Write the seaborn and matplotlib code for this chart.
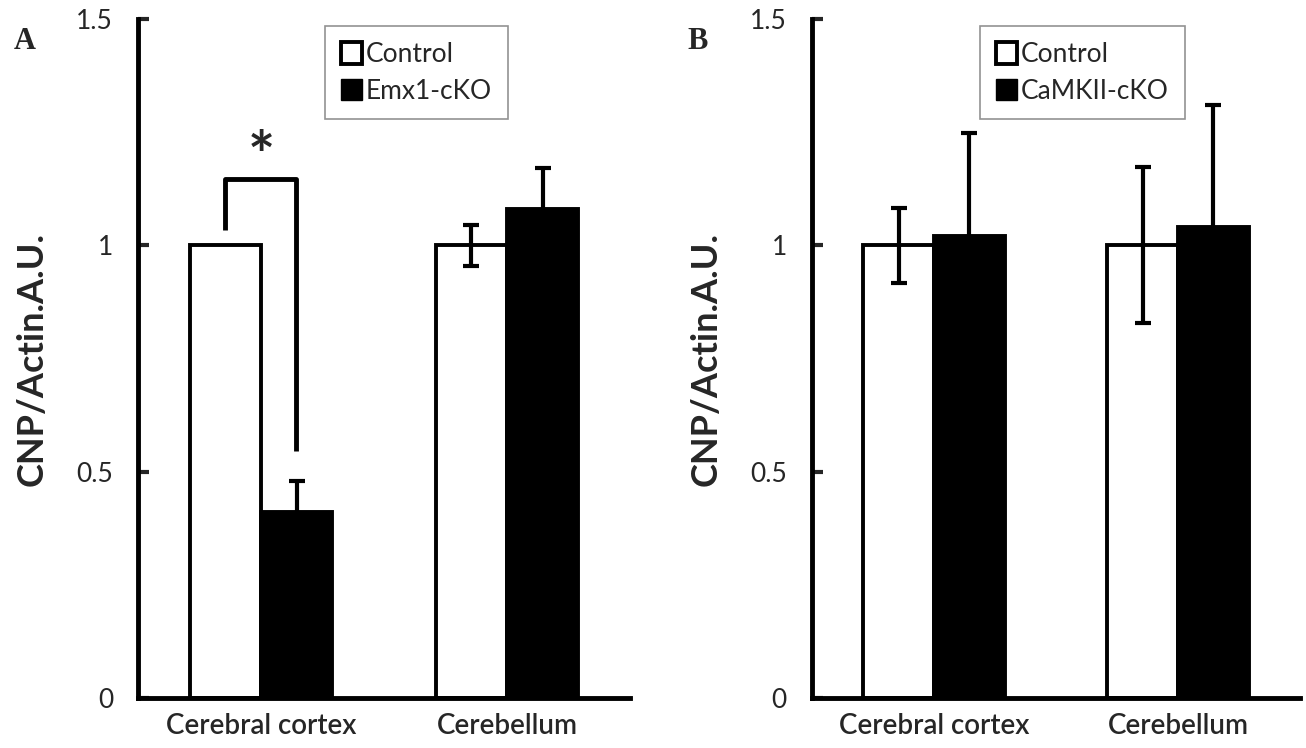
import matplotlib
matplotlib.use("Agg")
import matplotlib.pyplot as plt
import numpy as np
import pandas as pd
import seaborn as sns
from matplotlib.patches import Patch

regions = ["Cerebral cortex", "Cerebellum"]
tick_labels = ["Cerebral cortex", "Cerebellum"]

# panel A
groups_a = ["Control", "Emx1-cKO"]
mean_a_ctrl = [1.00, 1.00]
err_a_ctrl = [0.00, 0.045]
mean_a_cko = [0.41, 1.08]
err_a_cko = [0.07, 0.09]

# panel B
groups_b = ["Control", "CaMKII-cKO"]
mean_b_ctrl = [1.00, 1.00]
err_b_ctrl = [0.083, 0.172]
mean_b_cko = [1.02, 1.04]
err_b_cko = [0.228, 0.27]

# significance bracket (panel A, cortex)
bracket_y = [1.033, 1.146, 1.146, 0.546]
star_y = 1.19

sns.set_theme(style="white")
plt.rcParams["font.family"] = ["Lato", "DejaVu Sans"]


def draw_panel(ax, groups, m_ctrl, e_ctrl, m_cko, e_cko, letter, leg_x):
    df = pd.DataFrame({
        "region": regions * 2,
        "group": [groups[0]] * 2 + [groups[1]] * 2,
        "value": m_ctrl + m_cko,
    })
    sns.barplot(data=df, x="region", y="value", hue="group", order=regions,
                hue_order=groups, palette=["white", "black"], width=0.58,
                errorbar=None, edgecolor="black", linewidth=2.8, ax=ax,
                legend=False)
    # error bars at bar centres (skip zero-width ones)
    for bars, m, e in zip(ax.containers, [m_ctrl, m_cko], [e_ctrl, e_cko]):
        xs = np.array([b.get_x() + b.get_width() / 2 for b in bars])
        m, e = np.array(m), np.array(e)
        keep = e > 0
        ax.errorbar(xs[keep], m[keep], yerr=e[keep], fmt="none", ecolor="black",
                    elinewidth=3, capsize=6, capthick=3, zorder=1)

    ax.set_xlim(-0.5, 1.5)
    ax.set_ylim(0, 1.5)
    ax.set_yticks([0, 0.5, 1, 1.5])
    ax.set_yticklabels(["0", "0.5", "1", "1.5"], fontsize=19)
    ax.set_xticks([0, 1])
    ax.set_xticklabels(tick_labels, fontsize=20, fontweight="semibold")
    ax.tick_params(axis="y", direction="in", length=8, width=3, pad=18, left=True)
    ax.tick_params(axis="x", length=0, pad=11)
    for s in ["top", "right"]:
        ax.spines[s].set_visible(False)
    for s in ["left", "bottom"]:
        ax.spines[s].set_linewidth(3.5)
        ax.spines[s].set_color("black")
    ax.set_xlabel("")
    ax.set_ylabel("CNP/Actin.A.U.", fontsize=26, fontweight="bold", labelpad=20)

    handles = [Patch(facecolor="white", edgecolor="black", linewidth=2.8, label=groups[0]),
               Patch(facecolor="black", edgecolor="black", label=groups[1])]
    leg = ax.legend(handles=handles, loc="upper left", bbox_to_anchor=(leg_x, 0.99),
                    fontsize=19, handlelength=0.8, handleheight=0.9,
                    handletextpad=0.15, labelspacing=0.45, borderpad=0.6,
                    borderaxespad=0.0, frameon=True, fancybox=False,
                    edgecolor="#777777")
    leg.get_frame().set_linewidth(1.2)

    ax.figure.text(ax.get_position().x0 - 0.095, 0.935, letter, fontsize=22,
                   fontweight="bold", family="Liberation Serif")


fig = plt.figure(figsize=(13.06, 7.48), dpi=100)
ax_a = fig.add_axes([0.1057, 0.0668, 0.3767, 0.9078])
ax_b = fig.add_axes([0.6217, 0.0668, 0.3737, 0.9078])

draw_panel(ax_a, groups_a, mean_a_ctrl, err_a_ctrl, mean_a_cko, err_a_cko, "A", 0.38)
draw_panel(ax_b, groups_b, mean_b_ctrl, err_b_ctrl, mean_b_cko, err_b_cko, "B", 0.345)

# bracket + star on panel A
ax_a.plot([-0.147, -0.147, 0.143, 0.143], bracket_y, color="black", lw=3.5,
          solid_capstyle="butt")
ax_a.text(0.0, star_y, "*", ha="center", va="center", fontsize=46, fontweight="bold")

fig.savefig("out.png", dpi=100)
